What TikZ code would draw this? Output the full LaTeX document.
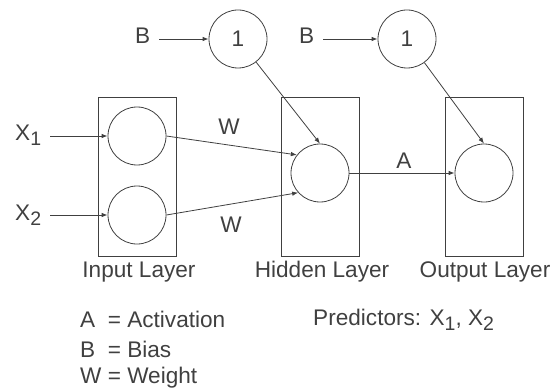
\documentclass[tikz,border=0pt]{standalone}
\usepackage{fontspec}
\setmainfont{Liberation Sans}
\usetikzlibrary{arrows.meta}
\definecolor{ink}{HTML}{404040}
\newcommand{\lowsub}[1]{\raisebox{-5pt}{\fontsize{19.5}{19.5}\selectfont #1}}

\begin{document}
\begin{tikzpicture}[x=1pt, y=-1pt, font=\fontsize{22.6}{26}\selectfont, color=ink,
    neuron/.style={draw, circle, minimum size=58pt, inner sep=0pt, line width=0.8pt},
    layer/.style={draw, rectangle, minimum width=78pt, minimum height=159pt, line width=0.8pt},
    tag/.style={inner sep=3pt},
    link/.style={-{Latex[length=6pt,width=4.5pt]}, line width=0.8pt}]
    \useasboundingbox (0,0) rectangle (553,390);

    \node[layer] (inbox) at (137,176.5) {};
    \node[layer] (hidbox) at (320.5,176.5) {};
    \node[layer] (outbox) at (484,176.5) {};

    \node[neuron] (in1) at (137,136) {};
    \node[neuron] (in2) at (137,215) {};
    \node[neuron] (hid) at (320,173) {};
    \node[neuron] (out) at (484,173) {};
    \node[neuron] (b1) at (238,39) {1};
    \node[neuron] (b2) at (407,39) {1};

    \node[tag, anchor=base west] (x1) at (12,141) {X\lowsub{1}};
    \node[tag, anchor=base west] (x2) at (12,220) {X\lowsub{2}};
    \node[tag, anchor=base west] (bl) at (132,44) {B};
    \node[tag, anchor=base west] (br) at (296,44) {B};

    \draw[link, shorten <=6pt] (x1.east |- in1) -- (in1.west);
    \draw[link, shorten <=6pt] (x2.east |- in2) -- (in2.west);
    \draw[link, shorten <=6pt] (bl.east |- b1) -- (b1.west);
    \draw[link, shorten <=6pt] (br.east |- b2) -- (b2.west);

    \draw[link] (in1.east) -- (hid.142);
    \draw[link] (in2.east) -- (hid.222);
    \draw[link] (b1) -- (hid.north);
    \draw[link] (b2) -- (out.north);
    \draw[link] (hid.east) -- (out.west);

    \node[tag, anchor=base] (w1) at (229,135) {W};
    \node[tag, anchor=base] (w2) at (231,232) {W};
    \node[tag, anchor=base] (act) at (404,168) {A};

    \node[tag, anchor=base] (inlab) at (139,277) {Input Layer};
    \node[tag, anchor=base] (hidlab) at (322,277) {Hidden Layer};
    \node[tag, anchor=base] (outlab) at (485,277) {Output Layer};

    \node[tag, anchor=base west] (keya) at (77,327) {A\ \ = Activation};
    \node[tag, anchor=base west] (keyb) at (77,357) {B\ \ = Bias};
    \node[tag, anchor=base west] (keyw) at (77,383) {W = Weight};
    \node[tag, anchor=base west] (pred) at (310,325) {Predictors: X\lowsub{1}, X\lowsub{2}};
\end{tikzpicture}
\end{document}
